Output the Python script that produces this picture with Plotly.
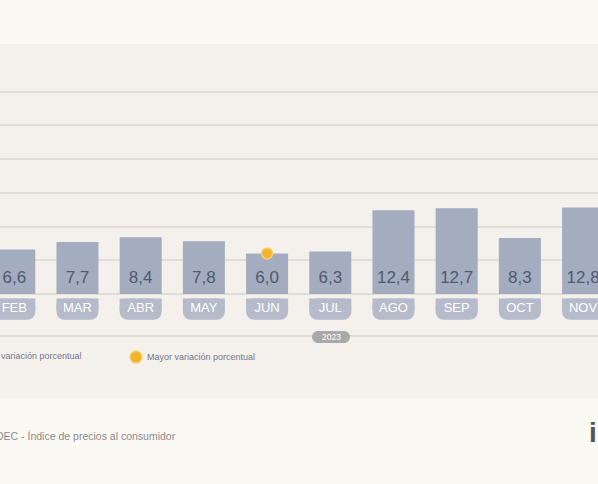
import plotly.graph_objects as go

# Data (INDEC, variación mensual del IPC 2023, %)
months = ["FEB", "MAR", "ABR", "MAY", "JUN", "JUL", "AGO", "SEP", "OCT", "NOV"]
values = [6.6, 7.7, 8.4, 7.8, 6.0, 6.3, 12.4, 12.7, 8.3, 12.8]
highlight_month = "JUN"
highlight_value = 6.0
year_label = "2023"

W, H = 598, 484
BG = "#fbf9f4"
PANEL = "#f4f1ec"
BAR = "#a3adbf"
TAB = "#b5bbca"
FONT = "Liberation Sans, Arial, sans-serif"


def px_x(p):
    return p / W


def px_y(p):
    return 1 - p / H


def pill(x0, y0, x1, y1):
    """Rounded pill path in paper coords from pixel box"""
    r = (y1 - y0) / 2
    k = 0.55 * r
    pts = [
        ("M", [(x0 + r, y0)]),
        ("L", [(x1 - r, y0)]),
        ("C", [(x1 - r + k, y0), (x1, y0 + r - k), (x1, y0 + r)]),
        ("C", [(x1, y0 + r + k), (x1 - r + k, y1), (x1 - r, y1)]),
        ("L", [(x0 + r, y1)]),
        ("C", [(x0 + r - k, y1), (x0, y0 + r + k), (x0, y0 + r)]),
        ("C", [(x0, y0 + r - k), (x0 + r - k, y0), (x0 + r, y0)]),
    ]
    s = ""
    for cmd, ps in pts:
        s += cmd + " " + " ".join(f"{px_x(a):.5f},{px_y(b):.5f}" for a, b in ps) + " "
    return s + "Z"


def label(text, x, y, size, color, xanchor="center", bold=False):
    return dict(text=f"<b>{text}</b>" if bold else text, xref="paper", yref="paper",
                x=px_x(x), y=px_y(y), xanchor=xanchor, yanchor="middle",
                showarrow=False, font=dict(size=size, color=color, family=FONT))


n = len(months)
fig = go.Figure()

# Value bars
fig.add_trace(
    go.Bar(x=months, y=values, marker=dict(color=BAR, line=dict(width=0)),
           width=0.665, hoverinfo="skip")
)
# Month tabs under the bars (rounded bottom, square top)
fig.add_trace(
    go.Bar(x=months, y=[-3.15] * n, base=[-0.7] * n,
           marker=dict(color=TAB, line=dict(width=0), cornerradius=8),
           width=0.665, hoverinfo="skip")
)
fig.add_trace(
    go.Bar(x=months, y=[-1.6] * n, base=[-0.7] * n,
           marker=dict(color=TAB, line=dict(width=0)),
           width=0.665, hoverinfo="skip")
)
# Value labels
fig.add_trace(
    go.Scatter(x=months, y=[2.2] * n, mode="text",
               text=[f"{v:.1f}".replace(".", ",") for v in values],
               textfont=dict(size=17, color="#4f5a70", family=FONT),
               hoverinfo="skip")
)
# Month labels
fig.add_trace(
    go.Scatter(x=months, y=[-2.25] * n, mode="text", text=months,
               textfont=dict(size=13, color="#ffffff", family=FONT),
               hoverinfo="skip")
)
# Highlight dot
fig.add_trace(
    go.Scatter(x=[highlight_month], y=[highlight_value], mode="markers",
               marker=dict(size=11, color="#f1b52c", line=dict(color="#f6cf73", width=1.5)),
               hoverinfo="skip")
)

shapes = [
    dict(type="rect", xref="paper", yref="paper", x0=0, x1=1,
         y0=px_y(398), y1=px_y(44), fillcolor=PANEL, line_width=0, layer="below"),
    dict(type="line", xref="paper", yref="paper", x0=0, x1=1,
         y0=px_y(336), y1=px_y(336), line=dict(color="#d9d4cd", width=1.5), layer="below"),
    dict(type="path", xref="paper", yref="paper", path=pill(312, 331, 350, 343),
         fillcolor="#a9a9a9", line_width=0, layer="below"),
    dict(type="circle", xref="paper", yref="paper", x0=px_x(130), x1=px_x(142),
         y0=px_y(363), y1=px_y(351), fillcolor="#f1b52c",
         line=dict(color="#f6cf73", width=1.5), layer="below"),
]

annotations = [
    label(year_label, 331, 337, 8.5, "#ffffff"),
    label("Menor variación porcentual", 84, 356, 9, "#76768a", xanchor="right"),
    label("Mayor variación porcentual", 145, 357, 9, "#76768a", xanchor="left"),
    label("Fuente: INDEC - Índice de precios al consumidor", 178, 436, 10.5, "#8a8a8a",
          xanchor="right"),
    label("infobae", 587, 432, 28, "#555555", xanchor="left", bold=True),
]

fig.update_layout(
    width=W, height=H,
    margin=dict(l=0, r=0, t=0, b=0),
    paper_bgcolor=BG, plot_bgcolor="rgba(0,0,0,0)",
    showlegend=False, barmode="overlay",
    shapes=shapes, annotations=annotations,
    xaxis=dict(range=[-0.226, 9.236], showticklabels=False, showgrid=False,
               zeroline=False, fixedrange=True),
    yaxis=dict(range=[-28.2, 43.6], tickvals=[0, 5, 10, 15, 20, 25, 30],
               showticklabels=False, showgrid=True, gridcolor="#e1ddd6", gridwidth=1.5,
               zeroline=False, fixedrange=True),
)

fig.write_html("out.html", config={"displayModeBar": False},
               post_script="document.body.style.margin='0';")
